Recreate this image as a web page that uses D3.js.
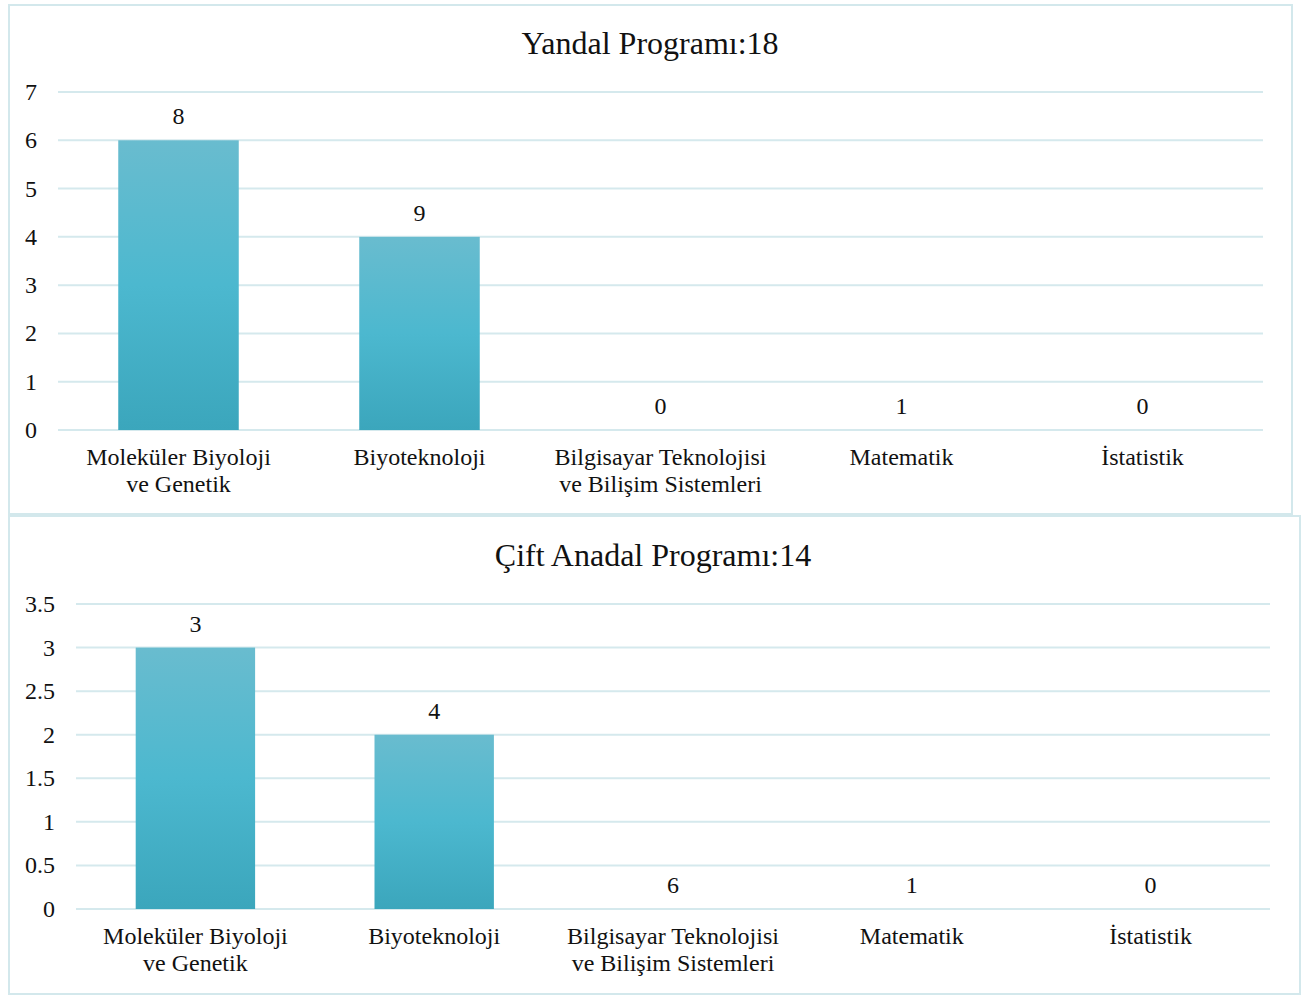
<!DOCTYPE html>
<html><head><meta charset="utf-8">
<script src="https://cdn.jsdelivr.net/npm/d3@7"></script>
<style>body{margin:0;background:#fff}svg{display:block}text{font-family:"Liberation Serif","Times New Roman",serif;fill:#111}</style>
</head><body>
<svg id="c" width="1301" height="996"></svg>
<script>
const categories = [["Moleküler Biyoloji","ve Genetik"],["Biyoteknoloji"],["Bilgisayar Teknolojisi","ve Bilişim Sistemleri"],["Matematik"],["İstatistik"]];
const yandalTitle = "Yandal Programı:18";
const yandalBars = [6,4,0,0,0];
const yandalLabels = ["8","9","0","1","0"];
const yandalTicks = [0,1,2,3,4,5,6,7];
const capTitle = "Çift Anadal Programı:14";
const capBars = [3,2,0,0,0];
const capLabels = ["3","4","6","1","0"];
const capTicks = [0,0.5,1,1.5,2,2.5,3,3.5];

const svg = d3.select("#c");
const defs = svg.append("defs");
const g = defs.append("linearGradient").attr("id","bg").attr("x1",0).attr("y1",0).attr("x2",0).attr("y2",1);
g.append("stop").attr("offset","0%").attr("stop-color","#69bccf");
g.append("stop").attr("offset","50%").attr("stop-color","#4cb8cf");
g.append("stop").attr("offset","100%").attr("stop-color","#3ba6bc");

function chart(o){
  svg.append("rect").attr("x",o.bx).attr("y",o.by).attr("width",o.bw).attr("height",o.bh)
    .attr("fill","#fff").attr("stroke","#d3e8ec").attr("stroke-width",2);
  svg.append("text").attr("x",o.tx).attr("y",o.ty).attr("text-anchor","middle")
    .style("font-size","32px").text(o.title);
  const x = d3.scaleBand().domain(d3.range(categories.length)).range([o.x0,o.x1]).paddingInner(0.5).paddingOuter(0.25);
  const y = d3.scaleLinear().domain([0,o.max]).range([o.y0,o.y1]);
  const grid = svg.append("g");
  grid.selectAll("line").data(o.ticks).join("line")
    .attr("x1",o.x0).attr("x2",o.x1).attr("y1",d=>y(d)).attr("y2",d=>y(d))
    .attr("stroke","#d5e9ed").attr("stroke-width",2);
  svg.append("g").selectAll("text").data(o.ticks).join("text")
    .attr("x",o.lx).attr("y",d=>y(d)+8).attr("text-anchor","end")
    .style("font-size","24px").text(d=>d);
  svg.append("g").selectAll("rect").data(o.bars).join("rect")
    .attr("x",(d,i)=>x(i)).attr("width",x.bandwidth())
    .attr("y",d=>y(d)).attr("height",d=>y(0)-y(d)).attr("fill","url(#bg)");
  svg.append("g").selectAll("text").data(o.bars).join("text")
    .attr("x",(d,i)=>x(i)+x.bandwidth()/2).attr("y",d=>y(d)-16).attr("text-anchor","middle")
    .style("font-size","24px").text((d,i)=>o.labels[i]);
  const cl = svg.append("g").selectAll("text").data(categories).join("text")
    .attr("x",(d,i)=>x(i)+x.bandwidth()/2).attr("y",o.y0+35).attr("text-anchor","middle")
    .style("font-size","24px");
  cl.each(function(d,i){
    const t=d3.select(this);
    d.forEach((s,k)=>t.append("tspan").attr("x",x(i)+x.bandwidth()/2).attr("dy",k?27:0).text(s));
  });
}
chart({bx:9,by:5,bw:1283,bh:509,tx:650,ty:54,title:yandalTitle,x0:58,x1:1263,y0:430,y1:92,max:7,
  ticks:yandalTicks,bars:yandalBars,labels:yandalLabels,lx:37});
chart({bx:9,by:516,bw:1291,bh:478,tx:653,ty:566,title:capTitle,x0:76,x1:1270,y0:909,y1:604,max:3.5,
  ticks:capTicks,bars:capBars,labels:capLabels,lx:55});
</script>
</body></html>
